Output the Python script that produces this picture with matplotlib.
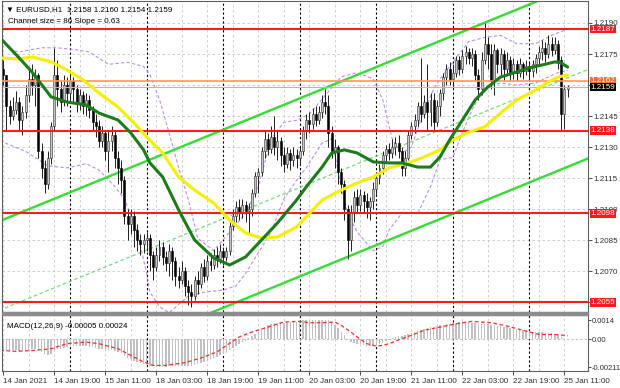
import numpy as np
import matplotlib
matplotlib.use('Agg')
import matplotlib.pyplot as plt
import matplotlib.transforms as mtransforms
from matplotlib.patches import Rectangle

W, H = 620, 388

############################# Data #############################

# EURUSD H1, first bar = 14 Jan 2021 03:00, one entry per hourly bar
first_open = 1.2168
closes = [1.2165, 1.2150, 1.2145, 1.2148, 1.2152, 1.2143, 1.2147, 1.2155, 1.2163, 1.2160,
          1.2165, 1.2128, 1.2120, 1.2112, 1.2125, 1.2140, 1.2165, 1.2158, 1.2152, 1.2160,
          1.2156, 1.2162, 1.2158, 1.2151, 1.2155, 1.2150, 1.2153, 1.2148, 1.2142, 1.2140,
          1.2133, 1.2137, 1.2128, 1.2133, 1.2136, 1.2125, 1.2120, 1.2114, 1.2097, 1.2093,
          1.2097, 1.2090, 1.2085, 1.2083, 1.2085, 1.2086, 1.2078, 1.2072, 1.2078, 1.2082,
          1.2077, 1.2074, 1.2080, 1.2075, 1.2068, 1.2066, 1.2070, 1.2063, 1.2060, 1.2058,
          1.2066, 1.2064, 1.2072, 1.2068, 1.2075, 1.2073, 1.2078, 1.2076, 1.2080, 1.2077,
          1.2080, 1.2092, 1.2097, 1.2101, 1.2098, 1.2102, 1.2099, 1.2100, 1.2108, 1.2116,
          1.2118, 1.2128, 1.2134, 1.2129, 1.2135, 1.2130, 1.2133, 1.2126, 1.2122, 1.2127,
          1.2124, 1.2126, 1.2125, 1.2128, 1.2138, 1.2143, 1.2141, 1.2146, 1.2143, 1.2147,
          1.2152, 1.2150, 1.2137, 1.2128, 1.2130, 1.2118, 1.2112, 1.2100, 1.2085, 1.2098,
          1.2106, 1.2102, 1.2107, 1.2104, 1.2101, 1.2104, 1.2110, 1.2115, 1.2120, 1.2126,
          1.2129, 1.2127, 1.2130, 1.2132, 1.2128, 1.2120, 1.2125, 1.2136, 1.2140, 1.2143,
          1.2150, 1.2146, 1.2152, 1.2147, 1.2153, 1.2142, 1.2150, 1.2156, 1.2164, 1.2168,
          1.2163, 1.2166, 1.2172, 1.2168, 1.2174, 1.2176, 1.2173, 1.2175, 1.2165, 1.2158,
          1.2172, 1.2180, 1.2175, 1.2162, 1.2177, 1.2170, 1.2175, 1.2168, 1.2172, 1.2166,
          1.2170, 1.2166, 1.2170, 1.2167, 1.2169, 1.2167, 1.2170, 1.2173, 1.2176, 1.2178,
          1.2175, 1.2180, 1.2177, 1.2180, 1.2172, 1.2146, 1.2158, 1.2159]
highs = [1.2172, 1.2165, 1.2153, 1.2154, 1.2157, 1.2154, 1.2150, 1.2160, 1.2168, 1.2170,
         1.2168, 1.2166, 1.2132, 1.2124, 1.2128, 1.2142, 1.2178, 1.2172, 1.2162, 1.2165,
         1.2164, 1.2166, 1.2164, 1.2160, 1.2158, 1.2157, 1.2156, 1.2155, 1.2150, 1.2146,
         1.2143, 1.2140, 1.2138, 1.2138, 1.2140, 1.2138, 1.2128, 1.2124, 1.2116, 1.2100,
         1.2100, 1.2099, 1.2093, 1.2088, 1.2088, 1.2089, 1.2088, 1.2080, 1.2082, 1.2085,
         1.2084, 1.2080, 1.2083, 1.2082, 1.2077, 1.2072, 1.2075, 1.2072, 1.2066, 1.2064,
         1.2068, 1.2070, 1.2074, 1.2076, 1.2078, 1.2079, 1.2081, 1.2082, 1.2083, 1.2082,
         1.2082, 1.2094, 1.2100, 1.2104, 1.2105, 1.2105, 1.2104, 1.2103, 1.2110, 1.2118,
         1.2120, 1.2130, 1.2138, 1.2137, 1.2140, 1.2145, 1.2138, 1.2135, 1.2130, 1.2130,
         1.2129, 1.2130, 1.2129, 1.2130, 1.2140, 1.2146, 1.2147, 1.2149, 1.2150, 1.2150,
         1.2155, 1.2158, 1.2155, 1.2140, 1.2134, 1.2131, 1.2120, 1.2114, 1.2102, 1.2102,
         1.2109, 1.2110, 1.2110, 1.2109, 1.2108, 1.2106, 1.2113, 1.2118, 1.2122, 1.2128,
         1.2131, 1.2132, 1.2134, 1.2135, 1.2136, 1.2130, 1.2128, 1.2138, 1.2142, 1.2146,
         1.2152, 1.2173, 1.2155, 1.2170, 1.2156, 1.2156, 1.2153, 1.2158, 1.2166, 1.2170,
         1.2171, 1.2170, 1.2174, 1.2174, 1.2177, 1.2179, 1.2178, 1.2178, 1.2177, 1.2168,
         1.2176, 1.2190, 1.2183, 1.2180, 1.2180, 1.2178, 1.2178, 1.2177, 1.2176, 1.2174,
         1.2173, 1.2172, 1.2173, 1.2171, 1.2172, 1.2171, 1.2172, 1.2175, 1.2179, 1.2182,
         1.2181, 1.2184, 1.2183, 1.2183, 1.2182, 1.2174, 1.2160, 1.2160]
lows = [1.2160, 1.2138, 1.2141, 1.2143, 1.2146, 1.2138, 1.2136, 1.2144, 1.2152, 1.2155,
        1.2150, 1.2125, 1.2115, 1.2108, 1.2110, 1.2122, 1.2138, 1.2150, 1.2147, 1.2150,
        1.2150, 1.2152, 1.2152, 1.2147, 1.2148, 1.2146, 1.2145, 1.2144, 1.2138, 1.2135,
        1.2130, 1.2130, 1.2124, 1.2118, 1.2128, 1.2120, 1.2112, 1.2108, 1.2093, 1.2085,
        1.2088, 1.2082, 1.2080, 1.2078, 1.2079, 1.2080, 1.2070, 1.2066, 1.2070, 1.2075,
        1.2073, 1.2070, 1.2068, 1.2066, 1.2063, 1.2062, 1.2064, 1.2058, 1.2054, 1.2053,
        1.2056, 1.2059, 1.2062, 1.2065, 1.2066, 1.2070, 1.2071, 1.2072, 1.2074, 1.2073,
        1.2075, 1.2078, 1.2090, 1.2094, 1.2095, 1.2096, 1.2094, 1.2088, 1.2097, 1.2106,
        1.2108, 1.2116, 1.2125, 1.2126, 1.2127, 1.2126, 1.2124, 1.2121, 1.2118, 1.2120,
        1.2119, 1.2121, 1.2120, 1.2122, 1.2126, 1.2134, 1.2137, 1.2139, 1.2140, 1.2141,
        1.2144, 1.2146, 1.2130, 1.2125, 1.2120, 1.2112, 1.2108, 1.2095, 1.2076, 1.2080,
        1.2094, 1.2098, 1.2099, 1.2098, 1.2096, 1.2095, 1.2100, 1.2107, 1.2112, 1.2117,
        1.2123, 1.2124, 1.2125, 1.2126, 1.2125, 1.2116, 1.2116, 1.2124, 1.2134, 1.2137,
        1.2140, 1.2142, 1.2144, 1.2138, 1.2140, 1.2138, 1.2140, 1.2145, 1.2153, 1.2160,
        1.2160, 1.2159, 1.2164, 1.2165, 1.2166, 1.2170, 1.2170, 1.2169, 1.2162, 1.2153,
        1.2155, 1.2170, 1.2168, 1.2158, 1.2155, 1.2166, 1.2165, 1.2162, 1.2166, 1.2162,
        1.2163, 1.2162, 1.2164, 1.2163, 1.2165, 1.2163, 1.2164, 1.2166, 1.2170, 1.2172,
        1.2171, 1.2173, 1.2174, 1.2175, 1.2168, 1.2138, 1.2139, 1.2154]

# moving averages (at these bars)
green_ma_bars = [-1, 5, 9, 15, 20, 26, 30, 36, 40, 44, 46, 50, 55, 60, 66, 71, 76, 81, 86, 92,
                 95, 100, 103, 107, 111, 116, 121, 125, 130, 134, 137, 140, 144, 148, 152, 156,
                 161, 165, 169, 173, 175, 177]
green_ma = [1.21828, 1.21731, 1.21663, 1.21543, 1.21518, 1.21504, 1.21465, 1.21431, 1.21369,
            1.21287, 1.21224, 1.21156, 1.20997, 1.20852, 1.20765, 1.20731, 1.20770, 1.20852,
            1.20934, 1.21045, 1.21108, 1.21204, 1.21272, 1.21287, 1.21272, 1.21229, 1.21224,
            1.21224, 1.21204, 1.21204, 1.21253, 1.21335, 1.21431, 1.21528, 1.21591, 1.21639,
            1.21663, 1.21683, 1.21697, 1.21712, 1.21707, 1.21687]
yellow_ma_bars = [-1, 5, 9, 15, 20, 25, 30, 36, 41, 45, 50, 55, 60, 66, 71, 76, 81, 86, 92, 95,
                  100, 106, 111, 116, 121, 127, 132, 137, 141, 146, 151, 156, 161, 167, 171,
                  174, 177]
yellow_ma = [1.21731, 1.21726, 1.21736, 1.21712, 1.21673, 1.21625, 1.21562, 1.21494, 1.21417,
             1.21349, 1.21272, 1.21156, 1.21093, 1.21030, 1.20948, 1.20886, 1.20861, 1.20866,
             1.20915, 1.20963, 1.21045, 1.21093, 1.21127, 1.21156, 1.21200, 1.21224, 1.21253,
             1.21287, 1.21335, 1.21373, 1.21398, 1.21465, 1.21528, 1.21576, 1.21615, 1.21639,
             1.21649]

# bands (purple dashed)
upper_band_bars = [-1, 2, 5, 12, 17, 23, 27, 33, 39, 44, 46, 49, 52, 55, 58, 61, 66, 71, 76, 80,
                   84, 88, 92, 96, 101, 106, 111, 116, 119, 122, 125, 128, 132, 135, 137, 141,
                   146, 151, 156, 161, 167, 172, 177]
upper_band = [1.2184, 1.2177, 1.2176, 1.2178, 1.2178, 1.2177, 1.2176, 1.2170, 1.2171, 1.2169,
              1.2165, 1.2153, 1.2137, 1.2120, 1.2105, 1.2086, 1.2080, 1.2089, 1.2098, 1.2111,
              1.2134, 1.2142, 1.2143, 1.2146, 1.2155, 1.2164, 1.2166, 1.2163, 1.2153, 1.2134,
              1.2127, 1.2130, 1.2148, 1.2158, 1.2163, 1.2171, 1.2181, 1.2183, 1.2184, 1.2180,
              1.2180, 1.2184, 1.2187]
lower_band_bars = [-1, 7, 14, 20, 26, 30, 35, 38, 42, 45, 46, 49, 52, 58, 63, 69, 73, 76, 80, 84,
                   88, 92, 95, 100, 103, 106, 108, 111, 116, 119, 121, 125, 130, 134, 137, 141,
                   144, 147, 151, 156, 161, 167, 171, 174, 177]
lower_band = [1.2133, 1.2128, 1.2121, 1.2120, 1.2122, 1.2119, 1.2111, 1.2105, 1.2089, 1.2069,
              1.2060, 1.2053, 1.2050, 1.2058, 1.2060, 1.2061, 1.2063, 1.2069, 1.2079, 1.2089,
              1.2105, 1.2114, 1.2120, 1.2132, 1.2134, 1.2111, 1.2098, 1.2089, 1.2080, 1.2082,
              1.2090, 1.2098, 1.2098, 1.2111, 1.2124, 1.2125, 1.2137, 1.2148, 1.2159, 1.2161,
              1.2160, 1.2161, 1.2164, 1.2166, 1.2167]

# regression channel
channel_top_start = 1.2095   # upper line at bar 0
channel_slope = 0.000063     # 0.63 pips per bar
channel_size = 0.0086        # 86 pips

# horizontal levels
red_levels = [1.2187, 1.2138, 1.2098, 1.2055]
orange_level = 1.2162
last_price = 1.2159

price_ticks = [1.2190, 1.2175, 1.2160, 1.2145, 1.2130, 1.2115, 1.2100, 1.2085, 1.2070, 1.2055]
hidden_ticks = [1.2160, 1.2055]   # covered by the level boxes

# MACD(12,26,9) main (histogram) and signal
macd_hist = [-0.00080, -0.00082, -0.00085, -0.00086, -0.00085, -0.00088, -0.00090, -0.00087, -0.00080, -0.00076,
             -0.00072, -0.00085, -0.00100, -0.00115, -0.00120, -0.00112, -0.00090, -0.00078, -0.00072, -0.00064,
             -0.00060, -0.00055, -0.00052, -0.00054, -0.00052, -0.00054, -0.00055, -0.00058, -0.00063, -0.00068,
             -0.00074, -0.00076, -0.00082, -0.00084, -0.00086, -0.00092, -0.00100, -0.00108, -0.00128, -0.00142,
             -0.00152, -0.00164, -0.00176, -0.00184, -0.00190, -0.00195, -0.00202, -0.00207, -0.00210, -0.00211,
             -0.00209, -0.00208, -0.00205, -0.00204, -0.00203, -0.00204, -0.00202, -0.00203, -0.00203, -0.00202,
             -0.00196, -0.00190, -0.00180, -0.00172, -0.00162, -0.00152, -0.00142, -0.00132, -0.00122, -0.00112,
             -0.00102, -0.00084, -0.00066, -0.00050, -0.00036, -0.00024, -0.00012, 0.00004, 0.00020, 0.00036,
             0.00054, 0.00074, 0.00092, 0.00104, 0.00114, 0.00120, 0.00124, 0.00124, 0.00124, 0.00126,
             0.00127, 0.00130, 0.00132, 0.00136, 0.00140, 0.00143, 0.00142, 0.00141, 0.00140, 0.00140,
             0.00141, 0.00142, 0.00140, 0.00128, 0.00108, 0.00084, 0.00056, 0.00028, -0.00008, -0.00020,
             -0.00028, -0.00036, -0.00040, -0.00046, -0.00050, -0.00054, -0.00054, -0.00050, -0.00040, -0.00030,
             -0.00018, -0.00008, 0.00004, 0.00014, 0.00022, 0.00026, 0.00032, 0.00040, 0.00048, 0.00056,
             0.00064, 0.00070, 0.00076, 0.00082, 0.00088, 0.00092, 0.00096, 0.00102, 0.00108, 0.00112,
             0.00116, 0.00120, 0.00124, 0.00127, 0.00128, 0.00128, 0.00126, 0.00124, 0.00118, 0.00112,
             0.00110, 0.00114, 0.00112, 0.00106, 0.00104, 0.00100, 0.00098, 0.00094, 0.00090, 0.00086,
             0.00080, 0.00076, 0.00072, 0.00068, 0.00064, 0.00060, 0.00056, 0.00054, 0.00052, 0.00050,
             0.00048, 0.00046, 0.00044, 0.00040, 0.00030, 0.00016, 0.00004, -0.00005]
signal_bars = [-1, 4, 10, 15, 20, 26, 30, 36, 41, 44, 47, 51, 57, 62, 67, 70, 74, 78, 83, 88,
               93, 96, 100, 104, 106, 109, 111, 114, 117, 119, 121, 125, 128, 132, 137, 142,
               147, 153, 158, 163, 168, 174, 177]
signal = [-0.00085, -0.00093, -0.00085, -0.00073, -0.00035, -0.00023, -0.00035, -0.00073, -0.00136, -0.00173,
          -0.00199, -0.00199, -0.00178, -0.00143, -0.00098, -0.00048, 0.00015, 0.00053, 0.00090, 0.00128,
          0.00133, 0.00123, 0.00123, 0.00128, 0.00103, 0.00053, 0.00015, -0.00035, -0.00053, -0.00048,
          -0.00035, 0.00003, 0.00028, 0.00066, 0.00090, 0.00115, 0.00133, 0.00123, 0.00098, 0.00066,
          0.00035, 0.00033, 0.00024]
macd_ticks = [0.0014, 0.0, -0.00211]
macd_tick_labels = ['0.0014', '0.00', '-0.00211']

# time axis
date_labels = ['14 Jan 2021', '14 Jan 19:00', '15 Jan 11:00', '18 Jan 03:00', '18 Jan 19:00',
               '19 Jan 11:00', '20 Jan 03:00', '20 Jan 19:00', '21 Jan 11:00', '22 Jan 03:00',
               '22 Jan 19:00', '25 Jan 11:00']
label_step = 16
grid_step = 8
day_starts = [21, 45, 69, 93, 117, 141, 165]

############################# Plot #############################

plt.rcParams['font.family'] = ['Liberation Sans', 'DejaVu Sans']
FS = 5.8
GRID = '#c8c8c8'
XMIN, XMAX = -0.4, 183.4


def draw_grid(ax, yticks):
    for b in range(0, 184, grid_step):
        ax.axvline(b, color=GRID, lw=0.6, ls=(0, (3, 3)), zorder=0.5)
    for b in day_starts:
        ax.axvline(b, color='black', lw=0.8, ls=(0, (2, 2)), zorder=0.6)
    for y in yticks:
        ax.axhline(y, color=GRID, lw=0.6, ls=(0, (3, 3)), zorder=0.5)


def style_axes(ax):
    for s in ax.spines.values():
        s.set_color('#606060')
        s.set_linewidth(0.8)
    ax.yaxis.tick_right()
    ax.tick_params(axis='y', labelsize=FS, length=3, width=0.6, pad=1, colors='#303030')


def draw_candles(ax):
    x = np.arange(len(closes))
    c = np.array(closes)
    o = np.array([first_open] + closes[:-1])
    hi = np.maximum(np.array(highs), np.maximum(o, c))
    lo = np.minimum(np.array(lows), np.minimum(o, c))
    ax.vlines(x, lo, hi, color='#202020', lw=0.7, zorder=2)
    body = np.maximum(np.abs(c - o), 0.00003)
    bot = np.minimum(o, c)
    up = c >= o
    ax.bar(x[up], body[up], bottom=bot[up], width=0.62, color='#c4c4c4',
           edgecolor='#303030', linewidth=0.4, zorder=2.1)
    ax.bar(x[~up], body[~up], bottom=bot[~up], width=0.62, color='black',
           edgecolor='black', linewidth=0.4, zorder=2.1)


def level_box(ax, y, text, fc):
    tr = mtransforms.blended_transform_factory(ax.transAxes, ax.transData)
    ax.text(1.004, y, text, transform=tr, ha='left', va='center', fontsize=FS,
            color='white', zorder=10, clip_on=False,
            bbox=dict(boxstyle='square,pad=0.1', fc=fc, ec='none'))


def main():
    fig = plt.figure(figsize=(W / 100, H / 100), dpi=100)
    ax = fig.add_axes([2 / W, 1 - 312 / H, 586 / W, 311 / H])
    axm = fig.add_axes([2 / W, 1 - 371 / H, 586 / W, 56 / H])

    # ---- main price window ----
    draw_grid(ax, price_ticks)
    bx = np.array([XMIN - 1, XMAX + 1])
    top = channel_top_start + channel_slope * bx
    ax.plot(bx, top, color='#33dd33', lw=1.7, zorder=1.5)
    ax.plot(bx, top - channel_size, color='#33dd33', lw=1.7, zorder=1.5)
    ax.plot(bx, top - channel_size / 2, color='#77dd77', lw=0.9, ls=(0, (3, 2)), zorder=1.5)

    ax.plot(upper_band_bars, upper_band, color='#c08cf0', lw=0.8, ls=(0, (3, 2)), zorder=1)
    ax.plot(lower_band_bars, lower_band, color='#c08cf0', lw=0.8, ls=(0, (3, 2)), zorder=1)

    draw_candles(ax)

    ax.axhline(last_price, color='#b8b8b8', lw=0.8, zorder=2.5)
    ax.axhline(orange_level, color='#ff9466', lw=1.2, zorder=3)
    for lv in red_levels:
        ax.axhline(lv, color='#ff1a1a', lw=1.5, zorder=3)

    ax.plot(yellow_ma_bars, yellow_ma, color='#f4f000', lw=2.2, zorder=4, solid_capstyle='round')
    ax.plot(green_ma_bars, green_ma, color='#1a7d1a', lw=2.2, zorder=4.1, solid_capstyle='round')

    ax.set_xlim(XMIN, XMAX)
    ax.set_ylim(1.20504, 1.22006)
    style_axes(ax)
    ax.set_yticks(price_ticks)
    ax.set_yticklabels(['' if p in hidden_ticks else '%.4f' % p for p in price_ticks])
    ax.set_xticks([])

    for lv in red_levels:
        level_box(ax, lv, '%.4f' % lv, '#ff1a1a')
    level_box(ax, orange_level, '%.4f' % orange_level, '#ff6a33')
    level_box(ax, last_price, '%.4f' % last_price, 'black')

    ax.text(0.006, 0.985, '\u25bc EURUSD,H1  1.2158 1.2160 1.2154 1.2159', transform=ax.transAxes,
            fontsize=FS, va='top', ha='left', color='black', zorder=11)
    ax.text(0.011, 0.945, 'Channel size = 86 Slope = 0.63', transform=ax.transAxes,
            fontsize=FS, va='top', ha='left', color='black', zorder=11)

    # window separator
    fig.add_artist(Rectangle((2 / W, 1 - 315 / H), 586 / W, 3 / H, color='#8c8c8c',
                             transform=fig.transFigure))

    # ---- MACD window ----
    draw_grid(axm, [])
    axm.axhline(0, color='#c0c0c0', lw=0.8, ls=(0, (2, 2)), zorder=0.7)
    axm.bar(np.arange(len(macd_hist)), macd_hist, width=0.45, color='#c0c0c0', zorder=1)
    axm.plot(signal_bars, signal, color='#ff2a2a', lw=0.9, ls=(0, (3, 2)), zorder=2)
    axm.set_xlim(XMIN, XMAX)
    axm.set_ylim(-0.00241, 0.00181)
    style_axes(axm)
    axm.tick_params(axis='y', labelsize=5.5, length=2, pad=0.5)
    axm.set_yticks(macd_ticks)
    axm.set_yticklabels(macd_tick_labels)
    axm.text(0.009, 0.86, 'MACD(12,26,9) -0.00005 0.00024', transform=axm.transAxes,
             fontsize=FS, va='top', ha='left', color='black')

    axm.set_xticks(np.arange(len(date_labels)) * label_step)
    axm.set_xticklabels(date_labels)
    axm.tick_params(axis='x', labelsize=FS, length=3, width=0.6, pad=2, colors='#303030')
    for lbl in axm.get_xticklabels():
        lbl.set_ha('left')

    fig.savefig('out.png', dpi=100)
    plt.close(fig)


if __name__ == "__main__":
    main()
